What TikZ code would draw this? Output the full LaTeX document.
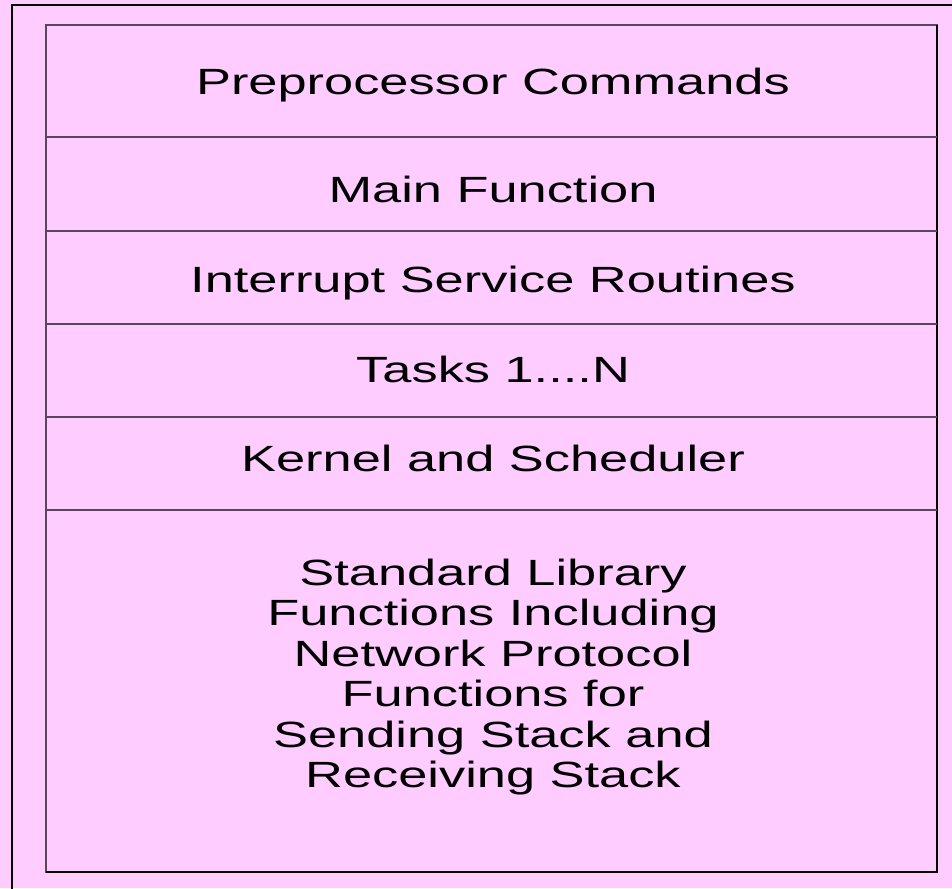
\documentclass[tikz,border=0pt]{standalone}
\usepackage{fontspec}
\setmainfont{Liberation Sans}[FakeStretch=1.435]
\definecolor{bgpink}{RGB}{255,204,255}
\definecolor{rule}{RGB}{90,70,90}
\begin{document}
\begin{tikzpicture}[x=1pt,y=-1pt,
  layer/.style={font=\fontsize{36.5}{40.5}\selectfont, align=center, inner sep=0pt},
  divider/.style={draw=rule, line width=1.3pt}]
\useasboundingbox (0,0) rectangle (952,888);
\fill[bgpink] (0,0) rectangle (952,888);
% outer frame, running off the right and bottom edges
\draw[black, line width=1.6pt] (12,1000) -- (12,5) -- (1000,5);
% stack of layers
\draw[divider] (46,25) rectangle (937,872);
\draw[black, line width=1.6pt] (46,872) -- (937,872) -- (937,25);
\coordinate (d1l) at (46,137); \coordinate (d1r) at (937,137);
\coordinate (d2l) at (46,231); \coordinate (d2r) at (937,231);
\coordinate (d3l) at (46,324); \coordinate (d3r) at (937,324);
\coordinate (d4l) at (46,417); \coordinate (d4r) at (937,417);
\coordinate (d5l) at (46,510); \coordinate (d5r) at (937,510);
\draw[divider] (d1l) -- (d1r);
\draw[divider] (d2l) -- (d2r);
\draw[divider] (d3l) -- (d3r);
\draw[divider] (d4l) -- (d4r);
\draw[divider] (d5l) -- (d5r);
\node[layer] (pre) at (493,85) {Preprocessor Commands};
\node[layer] (main) at (493,189) {Main Function};
\node[layer] (isr) at (493,283) {Interrupt Service Routines};
\node[layer] (tasks) at (493,369) {Tasks 1....N};
\node[layer] (kern) at (493,458) {Kernel and Scheduler};
\node[layer] (lib) at (493,677) {Standard Library\\Functions Including\\Network Protocol\\Functions for\\Sending Stack and\\Receiving Stack};
\end{tikzpicture}
\end{document}
